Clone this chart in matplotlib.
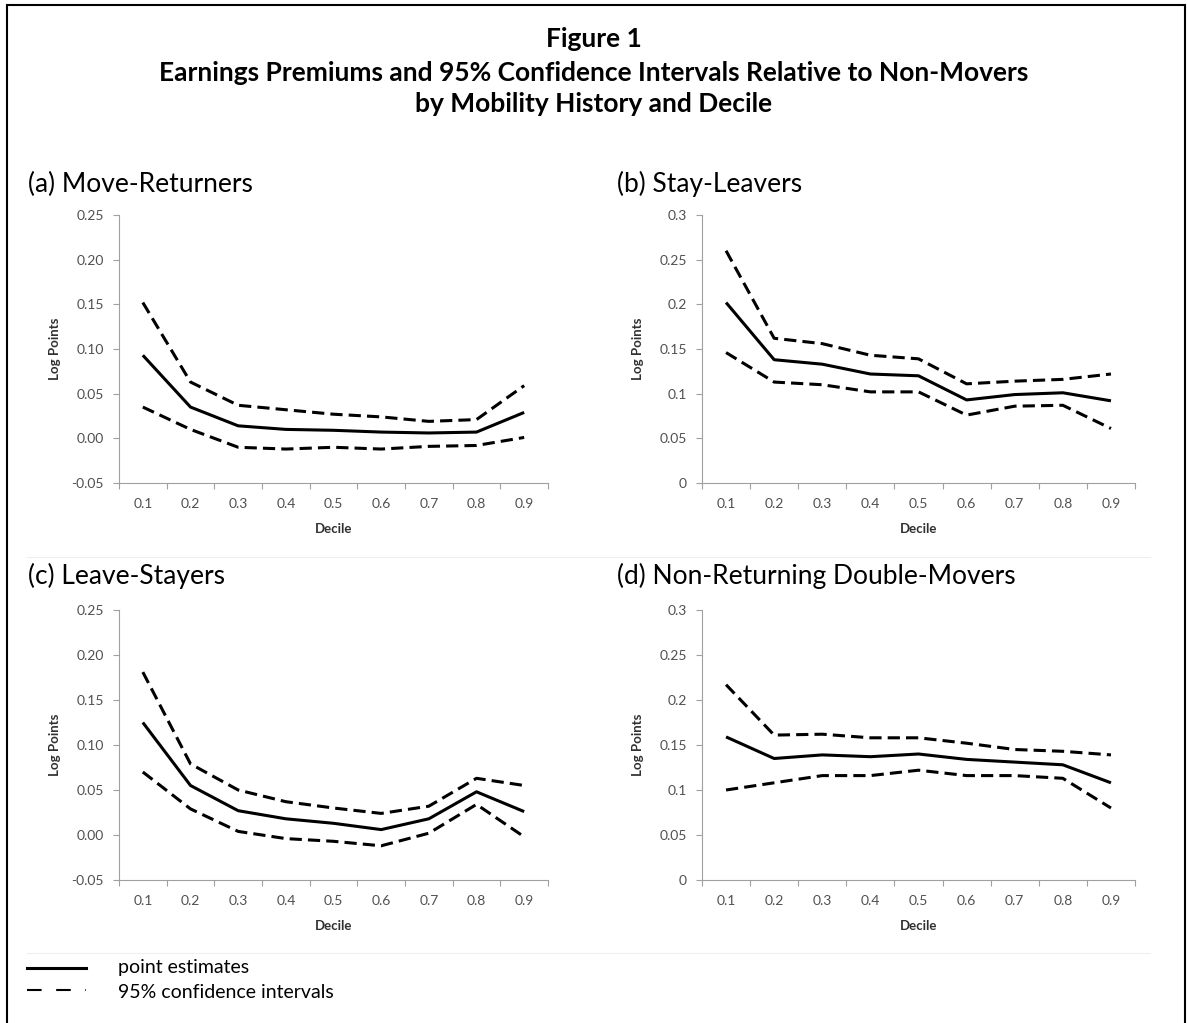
import numpy as np
import matplotlib.pyplot as plt
from matplotlib.patches import Rectangle
from matplotlib.lines import Line2D

plt.rcParams['font.family'] = ['Lato', 'DejaVu Sans']

deciles = ["0.1", "0.2", "0.3", "0.4", "0.5", "0.6", "0.7", "0.8", "0.9"]

# (a) Move-Returners
a_est = [0.093, 0.035, 0.014, 0.010, 0.009, 0.007, 0.006, 0.007, 0.029]
a_hi = [0.152, 0.063, 0.037, 0.032, 0.027, 0.024, 0.019, 0.021, 0.059]
a_lo = [0.035, 0.010, -0.010, -0.012, -0.010, -0.012, -0.009, -0.008, 0.001]

# (b) Stay-Leavers
b_est = [0.202, 0.138, 0.133, 0.122, 0.120, 0.093, 0.099, 0.101, 0.092]
b_hi = [0.260, 0.162, 0.156, 0.143, 0.139, 0.111, 0.114, 0.116, 0.122]
b_lo = [0.146, 0.113, 0.110, 0.102, 0.102, 0.076, 0.086, 0.087, 0.061]

# (c) Leave-Stayers
c_est = [0.125, 0.055, 0.027, 0.018, 0.013, 0.006, 0.018, 0.048, 0.026]
c_hi = [0.181, 0.079, 0.050, 0.037, 0.030, 0.024, 0.032, 0.063, 0.055]
c_lo = [0.070, 0.029, 0.004, -0.004, -0.007, -0.012, 0.002, 0.034, -0.002]

# (d) Non-Returning Double-Movers
d_est = [0.159, 0.135, 0.139, 0.137, 0.140, 0.134, 0.131, 0.128, 0.108]
d_hi = [0.217, 0.161, 0.162, 0.158, 0.158, 0.152, 0.145, 0.143, 0.139]
d_lo = [0.100, 0.108, 0.116, 0.116, 0.122, 0.116, 0.116, 0.113, 0.080]

W, H = 1188, 1023
fig = plt.figure(figsize=(W / 100, H / 100), dpi=100)

def px(x0, y0, x1, y1):
    # pixel box -> figure fraction rect
    return [x0 / W, 1 - y1 / H, (x1 - x0) / W, (y1 - y0) / H]

# outer frame
fig.patches.append(Rectangle((7 / W, -0.01), 1178 / W, 1 - 5 / H + 0.01,
                             transform=fig.transFigure, fill=False,
                             edgecolor='black', linewidth=1.5))

# faint chart-object borders
fig.add_artist(Line2D([27 / W, 1150 / W], [1 - 557 / H] * 2, color='#eeeeee', lw=0.8))
fig.add_artist(Line2D([27 / W, 1150 / W], [1 - 953 / H] * 2, color='#eeeeee', lw=0.8))

fig.text(0.5, 1 - 47 / H, "Figure 1", ha='center', va='baseline', fontsize=19, fontweight='bold')
fig.text(0.5, 1 - 81 / H, "Earnings Premiums and 95% Confidence Intervals Relative to Non-Movers",
         ha='center', va='baseline', fontsize=19, fontweight='bold')
fig.text(0.5, 1 - 112 / H, "by Mobility History and Decile", ha='center', va='baseline',
         fontsize=19, fontweight='bold')

panels = [
    ("(a) Move-Returners", a_est, a_hi, a_lo, (-0.05, 0.25), np.arange(-0.05, 0.26, 0.05), True,
     (119, 215, 548, 483), (28, 192)),
    ("(b) Stay-Leavers", b_est, b_hi, b_lo, (0, 0.3), np.arange(0, 0.31, 0.05), False,
     (702, 215, 1135, 483), (617, 192)),
    ("(c) Leave-Stayers", c_est, c_hi, c_lo, (-0.05, 0.25), np.arange(-0.05, 0.26, 0.05), True,
     (119, 610, 548, 880), (28, 584)),
    ("(d) Non-Returning Double-Movers", d_est, d_hi, d_lo, (0, 0.3), np.arange(0, 0.31, 0.05), False,
     (702, 610, 1135, 880), (617, 584)),
]

x = np.arange(len(deciles))
for title, est, hi, lo, ylim, yt, two_dec, box, tpos in panels:
    ax = fig.add_axes(px(*box))
    ax.plot(x, est, color='black', lw=2.2, solid_capstyle='butt')
    ax.plot(x, hi, color='black', lw=2.2, linestyle=(0, (4, 2)))
    ax.plot(x, lo, color='black', lw=2.2, linestyle=(0, (4, 2)))
    ax.set_xlim(-0.5, len(deciles) - 0.5)
    ax.set_ylim(*ylim)
    ax.set_yticks(yt)
    ax.set_yticklabels([("%.2f" % v if two_dec else "%g" % round(v, 2)) for v in yt])
    ax.set_xticks(np.arange(-0.5, len(deciles), 1.0))
    ax.set_xticklabels([])
    ax.set_xticks(x, minor=True)
    ax.set_xticklabels(deciles, minor=True)
    ax.tick_params(axis='x', which='major', length=4, color='#a0a0a0', width=0.8)
    ax.tick_params(axis='x', which='minor', length=0, pad=11, labelsize=10, labelcolor='#505050')
    ax.tick_params(axis='y', length=4, color='#a0a0a0', width=0.8, labelsize=10,
                   labelcolor='#505050', pad=7)
    for s in ['top', 'right']:
        ax.spines[s].set_visible(False)
    for s in ['left', 'bottom']:
        ax.spines[s].set_color('#a0a0a0')
        ax.spines[s].set_linewidth(0.8)
    ax.set_ylabel("Log Points", fontsize=9.5, fontweight='bold', color='#303030')
    ax.yaxis.set_label_coords(-0.135, 0.5)
    ax.set_xlabel("Decile", fontsize=9.5, fontweight='bold', color='#303030')
    ax.xaxis.set_label_coords(0.5, -0.15)
    fig.text(tpos[0] / W, 1 - tpos[1] / H, title, ha='left', va='baseline', fontsize=19)

# legend
fig.add_artist(Line2D([27 / W, 86 / W], [1 - 968 / H] * 2, color='black', lw=2.2))
fig.add_artist(Line2D([27 / W, 86 / W], [1 - 990 / H] * 2, color='black', lw=1.5,
                      linestyle=(0, (7, 7))))
fig.text(118 / W, 1 - 968 / H, "point estimates", ha='left', va='center', fontsize=14)
fig.text(118 / W, 1 - 992 / H, "95% confidence intervals", ha='left', va='center', fontsize=14)

fig.savefig("out.png", dpi=100)
